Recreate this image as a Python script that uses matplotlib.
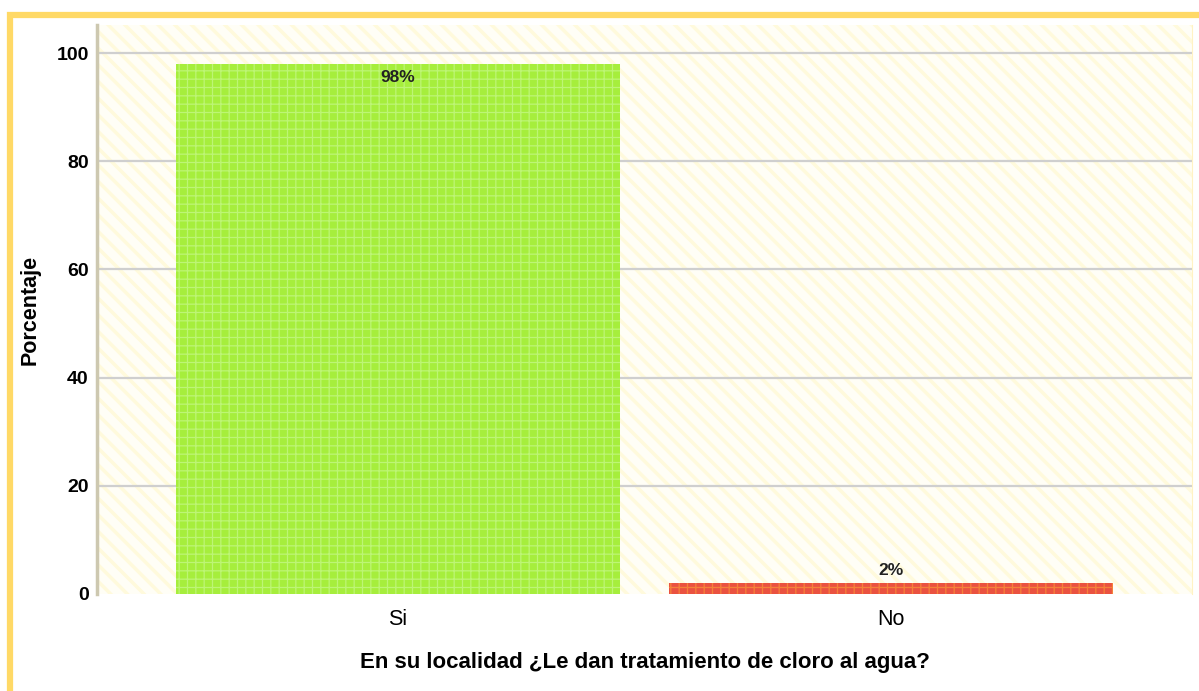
import matplotlib.pyplot as plt
from matplotlib.patches import Rectangle

categories = ['Si', 'No']
porcentajes = [98, 2]
etiquetas = ['98%', '2%']
colores = ['#a6ee3c', '#ea5240']
colores_trama = ['#bdf575', '#f5823a']

plt.rcParams['font.family'] = ['Liberation Sans', 'DejaVu Sans']

fig = plt.figure(figsize=(11.99, 6.91), dpi=100)
ax = fig.add_axes([0.0809, 0.1404, 0.9133, 0.8234])

# fondo amarillo rayado
ax.set_facecolor('#fffef6')
with plt.rc_context({'hatch.linewidth': 2.5}):
    fondo = Rectangle((0, 0), 1, 1, transform=ax.transAxes, facecolor='none',
                      edgecolor='#fffadc', hatch='\\\\', linewidth=0, zorder=0)
    ax.add_patch(fondo)

for y in [20, 40, 60, 80, 100]:
    ax.axhline(y, color='#cfcfcf', linewidth=1.6, zorder=1)

x = range(len(categories))
with plt.rc_context({'hatch.linewidth': 0.9}):
    for i in x:
        ax.bar(i, porcentajes[i], width=0.9, color=colores[i], edgecolor=colores_trama[i],
               hatch='++', linewidth=0, zorder=2)

ax.text(0, porcentajes[0] - 1.2, etiquetas[0], ha='center', va='top',
        fontsize=12.5, fontweight='bold', color='#222222', zorder=3)
ax.text(1, porcentajes[1] + 0.9, etiquetas[1], ha='center', va='bottom',
        fontsize=12.5, fontweight='bold', color='#222222', zorder=3)

ax.set_xlim(-0.61, 1.61)
ax.set_ylim(0, 105.2)
ax.set_xticks(list(x))
ax.set_xticklabels(categories, fontsize=15.5)
ax.set_yticks([0, 20, 40, 60, 80, 100])
ax.set_yticklabels(['0', '20', '40', '60', '80', '100'], fontsize=14, fontweight='bold')
ax.tick_params(axis='both', length=0, pad=6)
ax.tick_params(axis='x', pad=11)

ax.spines['top'].set_visible(False)
ax.spines['bottom'].set_visible(False)
ax.spines['right'].set_color('#fff3c4')
ax.spines['left'].set_color('#cdc8b0')
ax.spines['left'].set_linewidth(2.5)

ax.set_ylabel('Porcentaje', fontsize=15.5, fontweight='bold', labelpad=11)
ax.set_xlabel('En su localidad ¿Le dan tratamiento de cloro al agua?', fontsize=16,
              fontweight='bold', labelpad=16)

# marco amarillo
fig.patches.append(Rectangle((10 / 1199, -0.05), 1.05, 1 - 15.5 / 691 + 0.05,
                             transform=fig.transFigure, fill=False,
                             edgecolor='#ffd966', linewidth=4.5, figure=fig))

fig.savefig('out.png', dpi=100)
